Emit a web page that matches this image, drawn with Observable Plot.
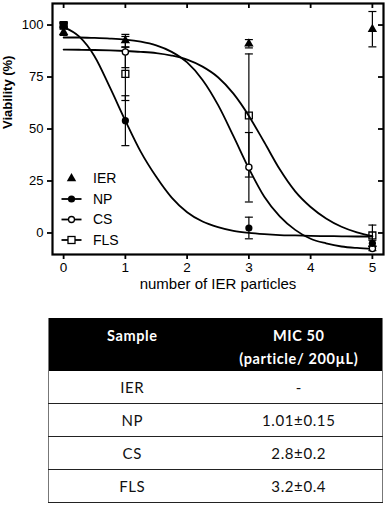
<!DOCTYPE html>
<html>
<head>
<meta charset="utf-8">
<script src="https://cdn.jsdelivr.net/npm/d3@7"></script>
<script src="https://cdn.jsdelivr.net/npm/@observablehq/plot@0.6"></script>
<style>
  html, body { margin: 0; padding: 0; background: #fff; }
  #wrap { position: relative; width: 392px; height: 300px; }
  #legend { position: absolute; left: 0; top: 0; pointer-events: none; }
  table { border-collapse: collapse; margin-top: 18px; margin-left: 48px; width: 335px;
          font-family: Lato, "Open Sans", sans-serif; font-size: 15px; letter-spacing: 0.6px; color: #111;
          border-left: 1px solid #777; border-right: 1px solid #777; }
  th { background: #000; color: #fff; font-weight: bold; height: 53px; padding: 6px 0 0 0; line-height: 23px;
       text-align: center; vertical-align: top; box-sizing: border-box; font-size: 14.5px; }
  td { height: 32px; padding: 0; text-align: center; border-bottom: 1.5px solid #222; }
  th, td { width: 50%; }
</style>
</head>
<body>
<div id="wrap"></div>
<div id="tbl"></div>
<script>
// ---- data ----
const doses = [0, 1, 3, 5];
const series = ["IER", "NP", "CS", "FLS"];
const ierMean = [96.5, 92.5, 91, 98];
const ierSD   = [1.5, 3, 2, 8.5];
const npMean  = [100, 54, 2.4, -5];
const npSD    = [1, 12, 5.2, 1.5];
const csMean  = [100, 87, 31.6, -7.5];
const csSD    = [1, 7.5, 16.7, 1];
const flsMean = [100, 76.5, 56.5, -1.2];
const flsSD   = [1, 12.8, 29.6, 5];

// fitted curves
const curveX   = [0, 0.25, 0.5, 0.75, 1, 1.25, 1.5, 1.75, 2, 2.25, 2.5, 2.75, 3, 3.25, 3.5, 3.75, 4, 4.25, 4.5, 4.75, 5];
const npCurve  = [99, 94.5, 85, 70, 54, 39, 27, 17, 10, 5.5, 2.8, 1, 0, -0.6, -1, -1.2, -1.4, -1.5, -1.6, -1.7, -1.7];
const csCurve  = [94, 94, 93.8, 93.5, 93, 92, 90.2, 87.1, 82, 73.6, 61.6, 46.6, 31, 17.4, 8, 1.5, -2.8, -5, -6.5, -7.2, -7.6];
const flsCurve = [88.2, 88.1, 88, 87.8, 87.5, 87.1, 86.5, 85.3, 83.4, 80, 74.9, 67, 56.3, 43.6, 30.6, 20, 12.5, 7, 3, 0.3, -1.5];

const xTicks = [0, 1, 2, 3, 4, 5];
const yTicks = [0, 25, 50, 75, 100];
const xLabel = "number of IER particles";
const yLabel = "Viability (%)";

const tableHead = ["Sample", "MIC 50", "(particle/ 200µL)"];
const tableSamples = ["IER", "NP", "CS", "FLS"];
const tableMIC = ["-", "1.01±0.15", "2.8±0.2", "3.2±0.4"];

// ---- build tables ----
const means = {IER: ierMean, NP: npMean, CS: csMean, FLS: flsMean};
const sds = {IER: ierSD, NP: npSD, CS: csSD, FLS: flsSD};
const pts = [];
for (const s of series) doses.forEach((x, i) => pts.push({series: s, x, y: means[s][i], lo: means[s][i] - sds[s][i], hi: means[s][i] + sds[s][i]}));
const curves = [];
const cv = {NP: npCurve, CS: csCurve, FLS: flsCurve};
for (const s of ["NP", "CS", "FLS"]) curveX.forEach((x, i) => curves.push({series: s, x, y: cv[s][i]}));
const of = s => pts.filter(d => d.series === s);

const cap = {draw(ctx) { ctx.moveTo(-4, 0); ctx.lineTo(4, 0); }};
const font = "Arial, 'Liberation Sans', sans-serif";

const W = 392, H = 300, mL = 52, mR = 9, mT = 3, mB = 46;
const fw = W - mL - mR, fh = H - mT - mB;

const chart = Plot.plot({
  width: W, height: H,
  marginLeft: mL, marginRight: mR, marginTop: mT, marginBottom: mB,
  style: {fontFamily: font, fontSize: "13px", color: "black", background: "white"},
  x: {domain: [-0.18, 5.18]},
  y: {domain: [-10.35, 110.35]},
  marks: [
    Plot.axisX({ticks: xTicks, tickFormat: d => String(d), tickSize: 5, tickPadding: 3, label: null, fontSize: 13.5, strokeWidth: 1.8}),
    Plot.axisY({ticks: yTicks, tickFormat: d => String(d), tickSize: 5, tickPadding: 4, label: null, fontSize: 13, strokeWidth: 1.8}),
    Plot.tickX(xTicks, {x: d => d, insetBottom: fh - 5, strokeWidth: 1.8}),
    Plot.tickY(yTicks, {y: d => d, insetLeft: fw - 5, strokeWidth: 1.8}),
    Plot.frame({strokeWidth: 2.2}),
    Plot.line(curves, {x: "x", y: "y", z: "series", curve: "monotone-x", strokeWidth: 1.8}),
    Plot.ruleX(pts, {x: "x", y1: "lo", y2: "hi", strokeWidth: 1.2}),
    Plot.dot(pts, {x: "x", y: "lo", symbol: cap, stroke: "black", strokeWidth: 1.2, fill: "none"}),
    Plot.dot(pts, {x: "x", y: "hi", symbol: cap, stroke: "black", strokeWidth: 1.2, fill: "none"}),
    Plot.dot(of("CS"), {x: "x", y: "y", r: 3.1, stroke: "black", fill: "white", strokeWidth: 1.3}),
    Plot.dot(of("FLS"), {x: "x", y: "y", symbol: "square", r: 3.9, stroke: "black", fill: "none", strokeWidth: 1.3}),
    Plot.dot(of("NP"), {x: "x", y: "y", r: 3.6, fill: "black"}),
    Plot.dot(of("IER"), {x: "x", y: "y", symbol: "triangle", r: 3.5, fill: "black"}),
    Plot.text([xLabel], {text: d => d, frameAnchor: "bottom", dy: 34, fontSize: 15}),
    Plot.text([yLabel], {text: d => d, frameAnchor: "left", dx: -45, rotate: -90, fontSize: 13, fontWeight: "bold"})
  ]
});
document.getElementById("wrap").appendChild(chart);

// ---- legend overlay ----
const lg = d3.select("#wrap").append("svg").attr("id", "legend").attr("width", W).attr("height", H);
const rows = [
  {name: "IER", y: 178.5, line: false},
  {name: "NP", y: 199, line: true},
  {name: "CS", y: 219.5, line: true},
  {name: "FLS", y: 240, line: true}
];
rows.forEach(r => {
  const g = lg.append("g");
  if (r.line) g.append("line").attr("x1", 61.5).attr("x2", 81.5).attr("y1", r.y).attr("y2", r.y).attr("stroke", "black").attr("stroke-width", 1.8);
  if (r.name === "IER") g.append("path").attr("transform", `translate(71.5,${r.y})`).attr("d", d3.symbol(d3.symbolTriangle, Math.PI * 3.5 * 3.5)()).attr("fill", "black");
  if (r.name === "NP") g.append("circle").attr("cx", 71.5).attr("cy", r.y).attr("r", 3.6).attr("fill", "black");
  if (r.name === "CS") g.append("circle").attr("cx", 71.5).attr("cy", r.y).attr("r", 3).attr("fill", "white").attr("stroke", "black").attr("stroke-width", 1.3);
  if (r.name === "FLS") g.append("rect").attr("x", 68).attr("y", r.y - 3.5).attr("width", 7).attr("height", 7).attr("fill", "white").attr("stroke", "black").attr("stroke-width", 1.3);
  g.append("text").attr("x", 93).attr("y", r.y).attr("dy", "0.35em").attr("font-family", font).attr("font-size", 14).text(r.name);
});

// ---- table ----
const tbl = d3.select("#tbl").append("table");
const hr = tbl.append("tr");
hr.append("th").text(tableHead[0]);
const h2 = hr.append("th");
h2.append("div").text(tableHead[1]);
h2.append("div").text(tableHead[2]);
tableSamples.forEach((s, i) => {
  const tr = tbl.append("tr");
  tr.append("td").text(s);
  tr.append("td").text(tableMIC[i]);
});
</script>
</body>
</html>
